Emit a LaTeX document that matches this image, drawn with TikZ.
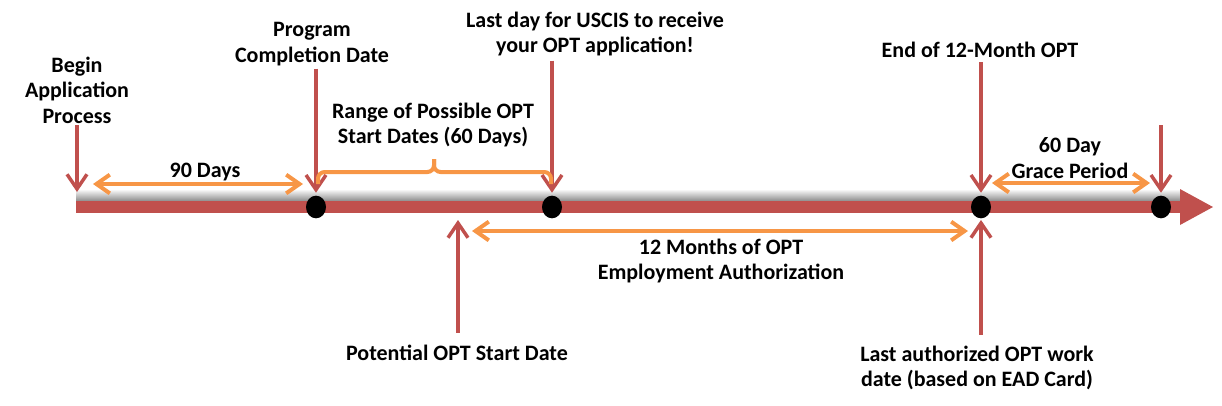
\documentclass[tikz,border=0pt]{standalone}
\usepackage{fontspec}
\setmainfont{Carlito}
\usetikzlibrary{arrows.meta,shapes.geometric}
\definecolor{barred}{HTML}{C0504D}
\definecolor{spanorange}{HTML}{F79646}
\begin{document}
\begin{tikzpicture}[x=0.75pt,y=0.75pt,yscale=-1,xscale=1,
  lbl/.style={inner sep=0pt,align=center,font=\fontsize{16.5}{19.2}\selectfont\bfseries},
  dot/.style={ellipse,fill=black,inner sep=0pt,minimum width=15pt,minimum height=17pt},
  redarrow/.style={draw=barred,line width=2.6pt,-{Straight Barb[length=11pt,width=15pt,line width=2.6pt]}},
  spanline/.style={draw=spanorange,line width=3pt},
  spanarrow/.style={spanline,{Straight Barb[length=10pt,width=14pt,line width=3pt]}-{Straight Barb[length=10pt,width=14pt,line width=3pt]}}]
\useasboundingbox (0,0) rectangle (1222,405);
\shade [top color=white,bottom color=black!45] (76,189) rectangle (1181,201);
\fill [barred] (76,201) rectangle (1181,213);
\fill [barred] (1180,189) -- (1213,207) -- (1180,225) -- cycle;
\node [dot] (dcomp) at (316,207) {};
\node [dot] (dlast) at (552,207) {};
\node [dot] (dend) at (981,207) {};
\node [dot] (dgrace) at (1161,207) {};
\node [lbl] (lbegin) at (77,90) {Begin\\Application\\Process};
\node [lbl] (lcomp) at (312,44) {Program\\Completion Date};
\node [lbl] (llast) at (595,34) {Last day for USCIS to receive\\your OPT application!};
\node [lbl] (lend) at (980,50) {End of 12-Month OPT};
\node [lbl] (lrange) at (433,125) {Range of Possible OPT\\Start Dates (60 Days)};
\node [lbl] (l90) at (205,172) {90 Days};
\node [lbl] (lgrace) at (1070,158) {60 Day\\Grace Period};
\node [lbl] (lmonths) at (721,261) {12 Months of OPT\\Employment Authorization};
\node [lbl] (lpot) at (457,353) {Potential OPT Start Date};
\node [lbl] (lwork) at (977,368) {Last authorized OPT work\\date (based on EAD Card)};
\coordinate (cbegin) at (77,192);
\coordinate (cgrace) at (1161,125);
\coordinate (cpot) at (458,220);
\coordinate (c90a) at (93,184);
\coordinate (c90b) at (303,184);
\coordinate (crangea) at (318,184);
\coordinate (crangeb) at (551,184);
\coordinate (crangetip) at (434,159);
\coordinate (cmontha) at (472,231);
\coordinate (cmonthb) at (968,231);
\coordinate (cgracea) at (992,183);
\coordinate (cgraceb) at (1150,183);
\draw [redarrow,shorten <=1pt] (lbegin.south) -- (cbegin);
\draw [redarrow,shorten <=2pt,shorten >=2pt] (lcomp.south -| dcomp) -- (dcomp.north);
\draw [redarrow,shorten <=3pt,shorten >=2pt] (llast.south -| dlast) -- (dlast.north);
\draw [redarrow,shorten <=3pt,shorten >=2pt] (lend.south -| dend) -- (dend.north);
\draw [redarrow,shorten >=2pt] (cgrace) -- (dgrace.north);
\draw [redarrow,shorten <=9pt] (lpot.north -| cpot) -- (cpot);
\draw [redarrow,shorten <=8pt,shorten >=1pt] (lwork.north -| dend) -- (dend.south);
\draw [spanarrow] (c90a) -- (c90b);
\draw [spanarrow] (cmontha) -- (cmonthb);
\draw [spanarrow] (cgracea) -- (cgraceb);
\draw [spanline,rounded corners=5pt] (crangea) |- (crangetip |- 0,172) -- (crangetip);
\draw [spanline,rounded corners=5pt] (crangetip) -- (crangetip |- 0,172) -| (crangeb);
\end{tikzpicture}
\end{document}
